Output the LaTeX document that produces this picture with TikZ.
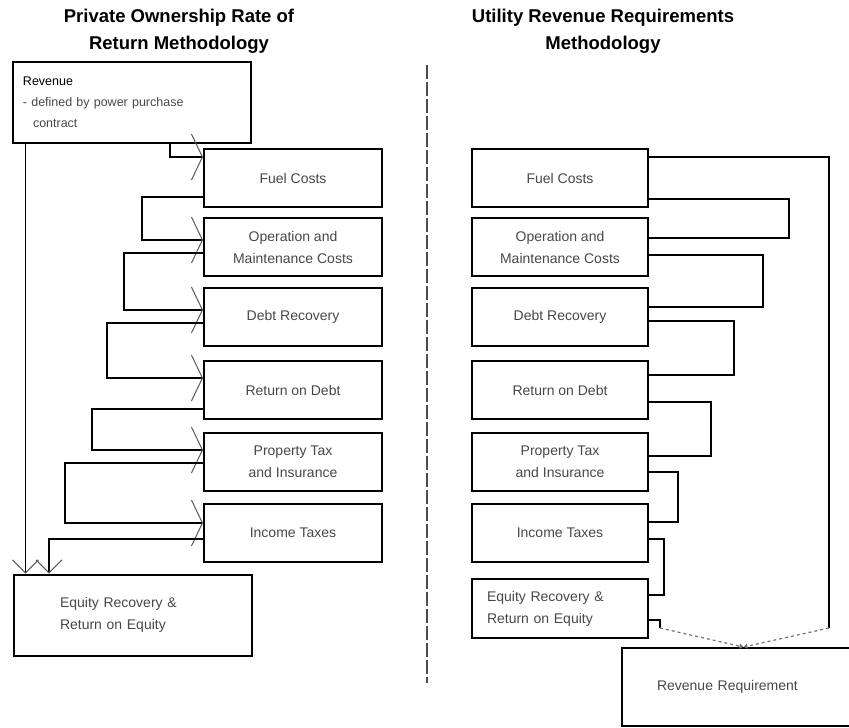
\documentclass[tikz,border=0pt]{standalone}
\usepackage{fontspec}
\setmainfont{Liberation Sans}
\usetikzlibrary{arrows.meta}

\begin{document}
\begin{tikzpicture}[
    x=1pt, y=-1pt,
    heading/.style={font=\fontsize{18.5}{27}\selectfont\bfseries, align=center, inner sep=0pt},
    box/.style={draw, line width=2pt, align=center, inner sep=0pt,
        font=\fontsize{14}{22}\selectfont, text=black!72},
    cost/.style={box, minimum width=178pt, minimum height=58pt},
    rcost/.style={cost, minimum width=176pt},
    wide/.style={box, minimum width=238pt, minimum height=81pt, align=left},
    flow/.style={line width=1.5pt, -{Straight Barb[length=11pt,width=46pt,line width=1pt,color=black!65]}},
    drop/.style={line width=1.5pt, -{Straight Barb[length=13pt,width=26pt,line width=1pt,color=black!65]}},
    link/.style={line width=1.5pt},
    merge/.style={line width=1.2pt, dashed, draw=black!55, -{Latex[length=4pt,width=6pt]}},
    divider/.style={line width=1.3pt, dash pattern=on 14pt off 3pt, draw=black!70}
]
\useasboundingbox (0,0) rectangle (849,728);
\node[heading] (lhead) at (179,31) {Private Ownership Rate of\\Return Methodology};
\node[heading] (rhead) at (603,31) {Utility Revenue Requirements\\Methodology};
\node[wide, text width=217pt, font=\fontsize{12.5}{21}\selectfont] (revenue) at (131.5,102.5)
    {{\color{black}Revenue}\\- defined by power purchase\\\hspace*{10pt}contract};
\node[cost] (lfuel) at (293,178) {Fuel Costs};
\node[cost] (lom) at (293,247) {Operation and\\Maintenance Costs};
\node[cost] (ldebt) at (293,317) {Debt Recovery};
\node[cost] (lreturn) at (293,390) {Return on Debt};
\node[cost] (ltax) at (293,462) {Property Tax\\and Insurance};
\node[cost] (lincome) at (293,533) {Income Taxes};
\node[wide, text width=145pt] (lequity) at (132.5,615) {Equity Recovery \&\\Return on Equity};
\node[rcost] (rfuel) at (560,178) {Fuel Costs};
\node[rcost] (rom) at (560,247) {Operation and\\Maintenance Costs};
\node[rcost] (rdebt) at (560,317) {Debt Recovery};
\node[rcost] (rreturn) at (560,390) {Return on Debt};
\node[rcost] (rtax) at (560,462) {Property Tax\\and Insurance};
\node[rcost] (rincome) at (560,533) {Income Taxes};
\node[rcost, minimum height=59pt, text width=146pt, align=left] (requity) at (560,608.5)
    {Equity Recovery \&\\Return on Equity};
\node[wide, minimum width=243pt, minimum height=78pt, text width=173pt] (requirement) at (743.5,687)
    {Revenue Requirement};
\coordinate (rbend) at (829,628);
\coordinate (ebend) at (660,628);
\draw[divider] (427,65) -- (427,683);
\draw[flow] ([xshift=38.5pt]revenue.south) |- ([yshift=21pt]lfuel.west);
\draw[flow] ([yshift=-19pt]lfuel.west) -- ++(-61,0) |- ([yshift=7pt]lom.west);
\draw[flow] ([yshift=-6pt]lom.west) -- ++(-79,0) |- ([yshift=7pt]ldebt.west);
\draw[flow] ([yshift=-6pt]ldebt.west) -- ++(-96,0) |- ([yshift=12pt]lreturn.west);
\draw[flow] ([yshift=-19pt]lreturn.west) -- ++(-111,0) |- ([yshift=12pt]ltax.west);
\draw[flow] ([yshift=-1pt]ltax.west) -- ++(-138,0) |- ([yshift=10pt]lincome.west);
\draw[drop] ([yshift=-6pt]lincome.west) -| ([xshift=-83.5pt]lequity.north);
\draw[drop] ([xshift=-106pt]revenue.south) -- ([xshift=-106pt]revenue.south |- lequity.north);
\draw[link] ([yshift=21pt]rfuel.east) -| (rbend);
\draw[link] ([yshift=-21pt]rfuel.east) -- ++(140,0) |- ([yshift=9pt]rom.east);
\draw[link] ([yshift=-8pt]rom.east) -- ++(114,0) |- ([yshift=10pt]rdebt.east);
\draw[link] ([yshift=-4pt]rdebt.east) -- ++(85,0) |- ([yshift=15pt]rreturn.east);
\draw[link] ([yshift=-12pt]rreturn.east) -- ++(62,0) |- ([yshift=6pt]rtax.east);
\draw[link] ([yshift=-10pt]rtax.east) -- ++(29,0) |- ([yshift=11pt]rincome.east);
\draw[link] ([yshift=-6pt]rincome.east) -- ++(15,0) |- ([yshift=13.5pt]requity.east);
\draw[link] ([yshift=-11.5pt]requity.east) -| (ebend);
\draw[merge] (ebend) -- (requirement.north);
\draw[merge] (rbend) -- (requirement.north);
\end{tikzpicture}
\end{document}
